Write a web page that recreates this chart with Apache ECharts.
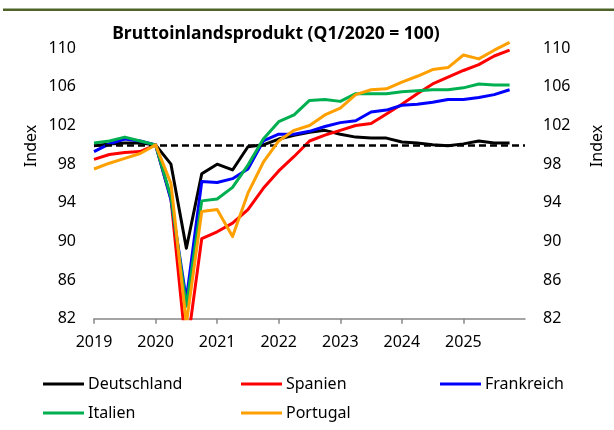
<!DOCTYPE html>
<html>
<head>
<meta charset="utf-8">
<script src="https://cdn.jsdelivr.net/npm/echarts@6/dist/echarts.min.js"></script>
<style>
  html, body { margin: 0; padding: 0; background: #fff; }
  #main { width: 614px; height: 430px; }
</style>
</head>
<body>
<div id="main"></div>
<script>
// Quartale Q1/2019 .. Q4/2025, Index Q1/2020 = 100
const quarters = [
  'Q1/2019', 'Q2/2019', 'Q3/2019', 'Q4/2019',
  'Q1/2020', 'Q2/2020', 'Q3/2020', 'Q4/2020',
  'Q1/2021', 'Q2/2021', 'Q3/2021', 'Q4/2021',
  'Q1/2022', 'Q2/2022', 'Q3/2022', 'Q4/2022',
  'Q1/2023', 'Q2/2023', 'Q3/2023', 'Q4/2023',
  'Q1/2024', 'Q2/2024', 'Q3/2024', 'Q4/2024',
  'Q1/2025', 'Q2/2025', 'Q3/2025', 'Q4/2025'
]

const deutschland = [99.9, 100.1, 100.2, 100.2, 100, 98.0, 89.3, 97.0, 98.0, 97.4, 99.8, 100.0, 100.6, 101.0,
  101.3, 101.5, 101.1, 100.8, 100.7, 100.7, 100.3, 100.2, 100.0, 99.9, 100.1, 100.4, 100.2, 100.2]
const spanien = [98.5, 99.0, 99.2, 99.3, 100, 94.4, 78.5, 90.3, 91.0, 91.9, 93.3, 95.5, 97.3, 98.8,
  100.4, 101.0, 101.5, 102.0, 102.2, 103.2, 104.2, 105.3, 106.3, 107.0, 107.7, 108.3, 109.2, 109.8]
const frankreich = [99.3, 100.1, 100.6, 100.4, 100, 94.3, 84.0, 96.2, 96.1, 96.5, 97.5, 100.4, 101.1, 101.1,
  101.4, 101.9, 102.3, 102.5, 103.4, 103.6, 104.1, 104.2, 104.4, 104.7, 104.7, 104.9, 105.2, 105.7]
const italien = [100.2, 100.4, 100.8, 100.4, 100, 94.6, 83.3, 94.2, 94.4, 95.6, 97.9, 100.6, 102.4, 103.1,
  104.6, 104.7, 104.5, 105.3, 105.3, 105.3, 105.5, 105.6, 105.7, 105.7, 105.9, 106.3, 106.2, 106.2]
const portugal = [97.5, 98.1, 98.6, 99.1, 100, 96.0, 81.5, 93.1, 93.3, 90.5, 95.0, 98.2, 100.4, 101.5,
  102.0, 103.1, 103.8, 105.2, 105.7, 105.8, 106.5, 107.1, 107.8, 108.0, 109.3, 108.9, 109.8, 110.6]

const yearTicks = [2019, 2020, 2021, 2022, 2023, 2024, 2025, 2026]
const baseline = 100

const names = ['Deutschland', 'Spanien', 'Frankreich', 'Italien', 'Portugal']
const values = [deutschland, spanien, frankreich, italien, portugal]
const colors = ['#000000', '#ff0000', '#0000ff', '#00b050', '#ffa000']

// 'Q3/2020' -> 2020.5
const toYear = (q) => Number(q.slice(3)) + (Number(q[1]) - 1) / 4

const font = 'Noto Sans'
const chart = echarts.init(document.getElementById('main'))

const series = names.map((name, k) => ({
  name: name,
  type: 'line',
  data: quarters.map((q, i) => [toYear(q), values[k][i]]),
  showSymbol: false,
  symbol: 'none',
  clip: true,
  lineStyle: { color: colors[k], width: 3, join: 'round' },
  itemStyle: { color: colors[k] },
  z: 2 + k
}))

series.push({
  name: 'baseline',
  type: 'line',
  data: [],
  markLine: {
    silent: true,
    symbol: 'none',
    label: { show: false },
    lineStyle: { color: '#000', width: 2.5, type: [7, 4] },
    data: [{ yAxis: baseline }]
  },
  z: 10
})

// eine Legende pro Eintrag, damit die Spalten fest sitzen
const legendPos = [
  { left: 43, top: 376 }, { left: 241, top: 376 }, { left: 440, top: 376 },
  { left: 43, top: 405 }, { left: 241, top: 405 }
]
const legends = names.map((name, k) => ({
  data: [name],
  left: legendPos[k].left,
  top: legendPos[k].top,
  icon: 'rect',
  itemWidth: 41,
  itemHeight: 3,
  itemGap: 0,
  padding: 0,
  textStyle: { fontFamily: font, fontSize: 16, color: '#000', padding: [0, 0, 0, -1] }
}))

const yAxisBase = {
  type: 'value',
  min: 82,
  max: 111,
  interval: 4,
  splitLine: { show: false },
  axisLine: { show: false },
  axisTick: { show: false },
  axisLabel: { fontFamily: font, fontSize: 16, color: '#000', margin: 18, showMaxLabel: false }
}

const option = {
  animation: false,
  title: {
    text: 'Bruttoinlandsprodukt (Q1/2020 = 100)',
    left: 271,
    top: 20,
    textAlign: 'center',
    textStyle: { fontFamily: font, fontSize: 17.5, fontWeight: 'bold', color: '#000' }
  },
  legend: legends,
  grid: { left: 94, right: 89, top: 38.6, bottom: 111.3 },
  xAxis: {
    type: 'value',
    min: yearTicks[0],
    max: yearTicks[yearTicks.length - 1],
    interval: 1,
    splitLine: { show: false },
    axisLine: { lineStyle: { color: '#878787', width: 1.5 } },
    axisTick: { show: true, length: 5, lineStyle: { color: '#878787', width: 1.5 } },
    axisLabel: {
      fontFamily: font, fontSize: 16, color: '#000', margin: 16, showMaxLabel: false,
      formatter: (v) => String(v)
    }
  },
  yAxis: [
    Object.assign({}, yAxisBase, { position: 'left' }),
    Object.assign({}, yAxisBase, { position: 'right' })
  ],
  graphic: [
    {
      type: 'rect',
      shape: { x: 3, y: 8.5, width: 611, height: 2.5 },
      style: { fill: '#4f6228' }
    },
    {
      type: 'text',
      x: 31, y: 146,
      rotation: Math.PI / 2,
      style: { text: 'Index', fontFamily: font, fontSize: 16, fill: '#000', align: 'center', verticalAlign: 'middle' }
    },
    {
      type: 'text',
      x: 597, y: 146,
      rotation: Math.PI / 2,
      style: { text: 'Index', fontFamily: font, fontSize: 16, fill: '#000', align: 'center', verticalAlign: 'middle' }
    }
  ],
  series: series
}

chart.setOption(option)
</script>
</body>
</html>
